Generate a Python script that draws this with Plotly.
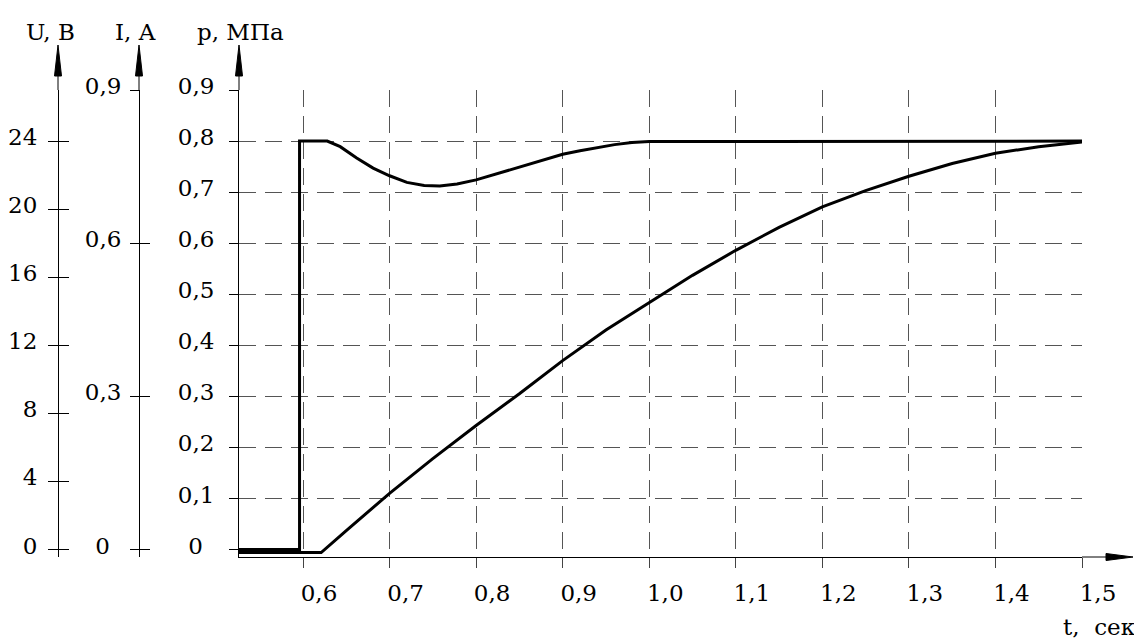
import plotly.graph_objects as go

# ---------------- data ----------------
t_current = [0.526, 0.596, 0.596, 0.628, 0.643, 0.662, 0.681, 0.700, 0.720, 0.740, 0.758,
             0.778, 0.800, 0.820, 0.840, 0.860, 0.880, 0.900, 0.920, 0.940, 0.960,
             0.980, 1.000, 1.500]
current = [0.0, 0.0, 0.800, 0.800, 0.789, 0.767, 0.747, 0.732, 0.719, 0.713, 0.712,
           0.716, 0.724, 0.734, 0.745, 0.755, 0.765, 0.774, 0.781, 0.787, 0.793,
           0.797, 0.799, 0.800]

t_pressure = [0.526, 0.621, 0.65, 0.70, 0.75, 0.80, 0.85, 0.90, 0.95, 1.00, 1.05,
              1.10, 1.15, 1.20, 1.25, 1.30, 1.35, 1.40, 1.45, 1.50]
pressure = [-0.006, -0.006, 0.037, 0.110, 0.178, 0.243, 0.305, 0.370, 0.430, 0.484, 0.537,
            0.586, 0.631, 0.671, 0.703, 0.731, 0.756, 0.776, 0.789, 0.798]

t_ticks = [0.6, 0.7, 0.8, 0.9, 1.0, 1.1, 1.2, 1.3, 1.4, 1.5]
t_labels = ["0,6", "0,7", "0,8", "0,9", "1,0", "1,1", "1,2", "1,3", "1,4", "1,5"]

p_ticks = [0.0, 0.1, 0.2, 0.3, 0.4, 0.5, 0.6, 0.7, 0.8, 0.9]
p_labels = ["0\u2002", "0,1", "0,2", "0,3", "0,4", "0,5", "0,6", "0,7", "0,8", "0,9"]

i_ticks = [0.0, 0.3, 0.6, 0.9]
i_labels = ["0\u2002", "0,3", "0,6", "0,9"]

u_ticks = [0, 4, 8, 12, 16, 20, 24]
u_labels = ["0", "4", "8", "12", "16", "20", "24"]

# ---------------- geometry ----------------
W, H = 1134, 641


def px(x):
    return x / W


def py(y):
    return 1 - y / H


T_PER_PX = 0.9 / (1082 - 303)
P_PER_PX = 0.9 / (549.5 - 90)
t_min = 0.6 - (303 - 239) * T_PER_PX
p_min = -(557 - 549.5) * P_PER_PX
U_PER_P = 30.0

FONT = dict(family="DejaVu Serif, Liberation Serif, serif", size=23, color="black")
GRID = dict(showgrid=True, gridcolor="#555555", gridwidth=1, griddash="17px,9px")

fig = go.Figure()
fig.add_trace(go.Scatter(x=t_pressure, y=pressure, mode="lines", yaxis="y",
                         line=dict(color="black", width=3), hoverinfo="skip"))
fig.add_trace(go.Scatter(x=t_current, y=current, mode="lines", yaxis="y3",
                         line=dict(color="black", width=3), hoverinfo="skip"))
# placeholder traces so that every helper axis gets drawn
for ax in ("y2", "y4", "y5", "y6"):
    fig.add_trace(go.Scatter(x=[t_ticks[0]], y=[None], mode="lines", yaxis=ax,
                             hoverinfo="skip", showlegend=False))

ydom = [py(557), py(90)]
common_y = dict(domain=ydom, zeroline=False, fixedrange=True, tickfont=FONT,
                automargin=False, ticklabelshift=-4)

fig.update_layout(
    template="none",
    width=W, height=H,
    margin=dict(l=0, r=0, t=0, b=0, pad=0),
    paper_bgcolor="white", plot_bgcolor="white",
    showlegend=False,
    font=FONT,
    xaxis=dict(domain=[px(239), px(1082)], range=[t_min, 1.5], tickvals=t_ticks,
               ticktext=t_labels, ticks="outside", ticklen=10, tickcolor="#444444",
               showline=True, linecolor="black", linewidth=1, zeroline=False,
               ticklabelstandoff=5, ticklabelshift=16, tickfont=FONT, anchor="y",
               automargin=False, fixedrange=True, **GRID),
    yaxis=dict(range=[p_min, 0.9], tickvals=p_ticks[1:], showticklabels=False,
               ticks="", showline=False, anchor="x", **GRID, **common_y),
    yaxis2=dict(range=[p_min, 0.9], overlaying="y", anchor="x", side="left",
                tickvals=p_ticks, ticktext=p_labels, ticks="outside", ticklen=9,
                tickcolor="black", showgrid=False, showline=True, linecolor="black",
                linewidth=1, ticklabelstandoff=10, **common_y),
    yaxis3=dict(range=[p_min, 0.9], overlaying="y", anchor="free", position=px(139),
                side="left", tickvals=i_ticks, ticktext=i_labels, ticks="outside",
                ticklen=9, tickcolor="black", showgrid=False, showline=True,
                linecolor="black", linewidth=1, ticklabelstandoff=4, **common_y),
    yaxis4=dict(range=[p_min, 0.9], overlaying="y", anchor="free", position=px(139),
                side="left", tickvals=i_ticks, showticklabels=False, ticks="inside",
                ticklen=10, tickcolor="black", showgrid=False, showline=False, **common_y),
    yaxis5=dict(range=[p_min * U_PER_P, 0.9 * U_PER_P], overlaying="y", anchor="free",
                position=px(58), side="left", tickvals=u_ticks, ticktext=u_labels,
                ticks="outside", ticklen=10, tickcolor="black", showgrid=False,
                showline=True, linecolor="black", linewidth=1, ticklabelstandoff=6,
                **common_y),
    yaxis6=dict(range=[p_min * U_PER_P, 0.9 * U_PER_P], overlaying="y", anchor="free",
                position=px(58), side="left", tickvals=u_ticks, showticklabels=False,
                ticks="inside", ticklen=10, tickcolor="black", showgrid=False,
                showline=False, **common_y),
)

# axis extensions and arrow heads
shapes = []
for xa in (58, 139, 239):
    shapes.append(dict(type="line", xref="paper", yref="paper",
                       x0=px(xa), x1=px(xa), y0=py(90), y1=py(70),
                       line=dict(color="black", width=1)))
    shapes.append(dict(type="path", xref="paper", yref="paper",
                       path=f"M {px(xa)},{py(45)} L {px(xa - 3.5)},{py(76)} "
                            f"L {px(xa + 3.5)},{py(76)} Z",
                       fillcolor="black", line=dict(color="black", width=1)))
shapes.append(dict(type="line", xref="paper", yref="paper",
                   x0=px(1082), x1=px(1110), y0=py(557), y1=py(557),
                   line=dict(color="black", width=1)))
shapes.append(dict(type="path", xref="paper", yref="paper",
                   path=f"M {px(1133)},{py(557)} L {px(1106)},{py(553.5)} "
                        f"L {px(1106)},{py(560.5)} Z",
                   fillcolor="black", line=dict(color="black", width=1)))
fig.update_layout(shapes=shapes)

titles = [("U, B", 50, 32, "center"), ("I, A", 135, 32, "center"),
          ("p, МПа", 240, 32, "center"), ("t,\u00a0 сек", 1061, 627, "left")]
for txt, x, y, anc in titles:
    fig.add_annotation(text=txt, x=px(x), y=py(y), xref="paper", yref="paper",
                       xanchor=anc, yanchor="middle", showarrow=False, font=FONT)

fig.write_html("out.html",
               config={"displayModeBar": False},
               post_script="document.body.style.margin='0px';"
                           "document.body.style.padding='0px';")
